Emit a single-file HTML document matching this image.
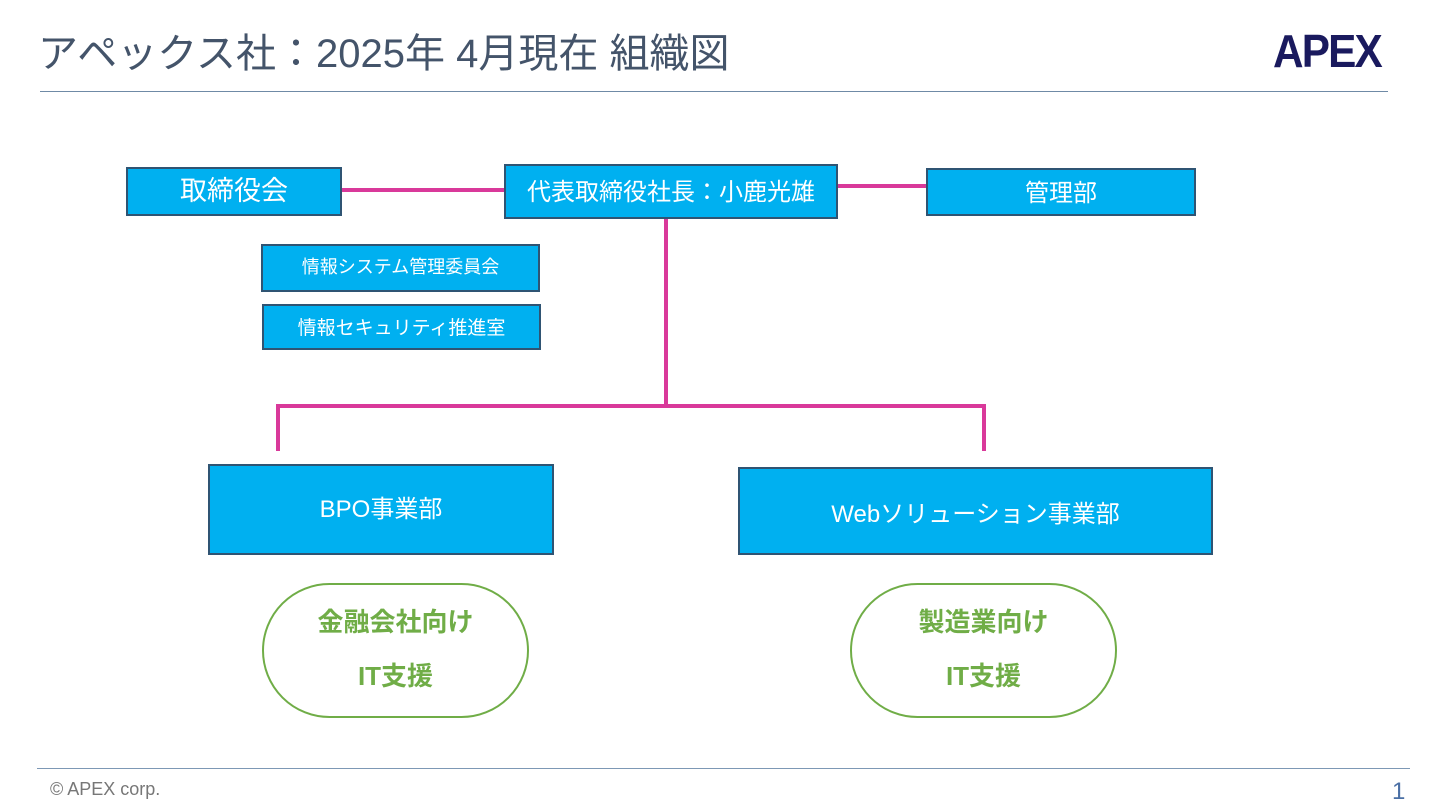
<!DOCTYPE html>
<html><head><meta charset="utf-8"><style>
body{margin:0;width:1442px;height:807px;background:#fff;position:relative;overflow:hidden;font-family:"Liberation Sans","Noto Sans CJK JP",sans-serif}
.a{position:absolute}
.b{position:absolute;background:#00b0f0;border:2px solid #2f5473;box-sizing:border-box;color:#fff;display:flex;align-items:center;justify-content:center;white-space:nowrap}
.l{position:absolute;background:#d9399a}
.o{position:absolute;border:2px solid #70ad47;border-radius:70px;box-sizing:border-box;color:#70ad47;font-weight:bold;font-size:26px;text-align:center;line-height:54px;padding-top:10px}
</style></head><body>
<div class="a" style="left:38px;top:26px;font-size:40px;color:#44546a;white-space:nowrap;line-height:56px">アペックス社：2025年 4月現在 組織図</div>
<div class="a" style="left:1273px;top:24px;font-size:46px;font-weight:bold;color:#1a1a5e;letter-spacing:-2px;transform:scaleX(0.92);transform-origin:left">APEX</div>
<div class="a" style="left:40px;top:91px;width:1348px;height:1px;background:#6f8aa6"></div>
<div class="l" style="left:341px;top:188px;width:163px;height:4px"></div>
<div class="l" style="left:837px;top:184px;width:89px;height:4px"></div>
<div class="l" style="left:664px;top:218px;width:4px;height:189px"></div>
<div class="l" style="left:276px;top:404px;width:710px;height:4px"></div>
<div class="l" style="left:276px;top:404px;width:4px;height:47px"></div>
<div class="l" style="left:982px;top:404px;width:4px;height:47px"></div>
<div class="b" style="left:126px;top:167px;width:216px;height:49px;font-size:27px;padding-bottom:6px">取締役会</div>
<div class="b" style="left:504px;top:164px;width:334px;height:55px;font-size:24px;padding-bottom:4px">代表取締役社長：小鹿光雄</div>
<div class="b" style="left:926px;top:168px;width:270px;height:48px;font-size:24px;padding-bottom:4px">管理部</div>
<div class="b" style="left:261px;top:244px;width:279px;height:48px;font-size:18px;padding-bottom:4px">情報システム管理委員会</div>
<div class="b" style="left:262px;top:304px;width:279px;height:46px;font-size:19px;padding-bottom:2px">情報セキュリティ推進室</div>
<div class="b" style="left:208px;top:464px;width:346px;height:91px;font-size:24px;padding-bottom:6px">BPO事業部</div>
<div class="b" style="left:738px;top:467px;width:475px;height:88px;font-size:24px">Webソリューション事業部</div>
<div class="o" style="left:262px;top:583px;width:267px;height:135px">金融会社向け<br>IT支援</div>
<div class="o" style="left:850px;top:583px;width:267px;height:135px">製造業向け<br>IT支援</div>
<div class="a" style="left:37px;top:768px;width:1373px;height:1px;background:#7d98b5"></div>
<div class="a" style="left:50px;top:779px;font-size:18px;color:#777">© APEX corp.</div>
<div class="a" style="left:1392px;top:778px;font-size:24px;color:#4a6fa5">1</div>
</body></html>
